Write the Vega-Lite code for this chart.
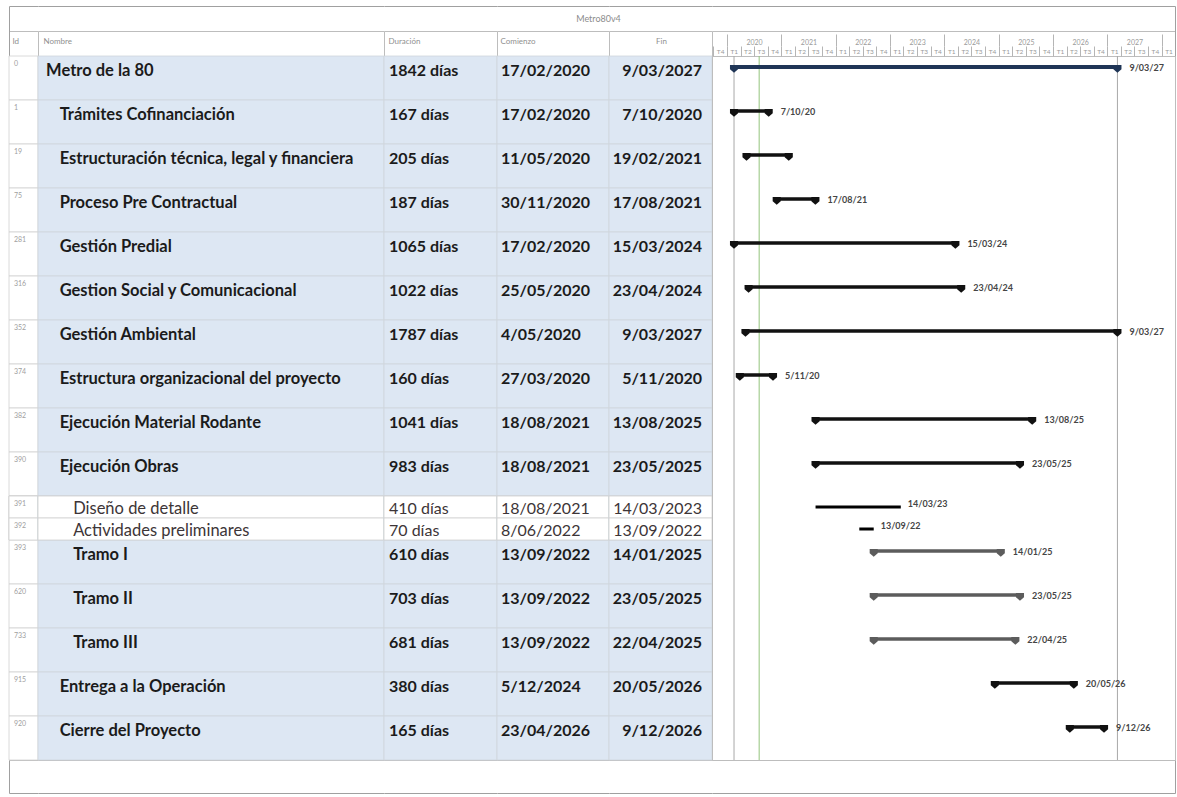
{
  "$schema": "https://vega.github.io/schema/vega-lite/v6.json",
  "padding": {"left": 8, "top": 5, "right": 3, "bottom": 5},
  "background": "white",
  "config": {"view": {"stroke": "#bdbdbd", "strokeWidth": 1}, "font": "Lato",
             "axis": {"titleFontSize": 8, "titleFontWeight": "normal", "titleColor": "#8f8f8f", "titleFont": "Lato", "titleAngle": 0, "titleBaseline": "middle"}},
  "data": {
    "values": [
      {"id": 0, "nombre": "Metro de la 80", "nivel": 0, "tipo": "proyecto", "duracion": "1842 días", "comienzo": "2020-02-17", "fin": "2027-03-09", "fila": 0, "sub": "a"},
      {"id": 1, "nombre": "Trámites Cofinanciación", "nivel": 1, "tipo": "resumen", "duracion": "167 días", "comienzo": "2020-02-17", "fin": "2020-10-07", "fila": 1, "sub": "a"},
      {"id": 19, "nombre": "Estructuración técnica, legal y financiera", "nivel": 1, "tipo": "resumen", "duracion": "205 días", "comienzo": "2020-05-11", "fin": "2021-02-19", "fila": 2, "sub": "a"},
      {"id": 75, "nombre": "Proceso Pre Contractual", "nivel": 1, "tipo": "resumen", "duracion": "187 días", "comienzo": "2020-11-30", "fin": "2021-08-17", "fila": 3, "sub": "a"},
      {"id": 281, "nombre": "Gestión Predial", "nivel": 1, "tipo": "resumen", "duracion": "1065 días", "comienzo": "2020-02-17", "fin": "2024-03-15", "fila": 4, "sub": "a"},
      {"id": 316, "nombre": "Gestion Social y Comunicacional", "nivel": 1, "tipo": "resumen", "duracion": "1022 días", "comienzo": "2020-05-25", "fin": "2024-04-23", "fila": 5, "sub": "a"},
      {"id": 352, "nombre": "Gestión Ambiental", "nivel": 1, "tipo": "resumen", "duracion": "1787 días", "comienzo": "2020-05-04", "fin": "2027-03-09", "fila": 6, "sub": "a"},
      {"id": 374, "nombre": "Estructura organizacional del proyecto", "nivel": 1, "tipo": "resumen", "duracion": "160 días", "comienzo": "2020-03-27", "fin": "2020-11-05", "fila": 7, "sub": "a"},
      {"id": 382, "nombre": "Ejecución Material Rodante", "nivel": 1, "tipo": "resumen", "duracion": "1041 días", "comienzo": "2021-08-18", "fin": "2025-08-13", "fila": 8, "sub": "a"},
      {"id": 390, "nombre": "Ejecución Obras", "nivel": 1, "tipo": "resumen", "duracion": "983 días", "comienzo": "2021-08-18", "fin": "2025-05-23", "fila": 9, "sub": "a"},
      {"id": 391, "nombre": "Diseño de detalle", "nivel": 2, "tipo": "tarea", "duracion": "410 días", "comienzo": "2021-08-18", "fin": "2023-03-14", "fila": 10, "sub": "a"},
      {"id": 392, "nombre": "Actividades preliminares", "nivel": 2, "tipo": "tarea", "duracion": "70 días", "comienzo": "2022-06-08", "fin": "2022-09-13", "fila": 10, "sub": "b"},
      {"id": 393, "nombre": "Tramo I", "nivel": 2, "tipo": "tramo", "duracion": "610 días", "comienzo": "2022-09-13", "fin": "2025-01-14", "fila": 11, "sub": "a"},
      {"id": 620, "nombre": "Tramo II", "nivel": 2, "tipo": "tramo", "duracion": "703 días", "comienzo": "2022-09-13", "fin": "2025-05-23", "fila": 12, "sub": "a"},
      {"id": 733, "nombre": "Tramo III", "nivel": 2, "tipo": "tramo", "duracion": "681 días", "comienzo": "2022-09-13", "fin": "2025-04-22", "fila": 13, "sub": "a"},
      {"id": 915, "nombre": "Entrega a la Operación", "nivel": 1, "tipo": "resumen", "duracion": "380 días", "comienzo": "2024-12-05", "fin": "2026-05-20", "fila": 14, "sub": "a"},
      {"id": 920, "nombre": "Cierre del Proyecto", "nivel": 1, "tipo": "resumen", "duracion": "165 días", "comienzo": "2026-04-23", "fin": "2026-12-09", "fila": 15, "sub": "a"}
    ],
    "format": {"parse": {"comienzo": "date:'%Y-%m-%d'", "fin": "date:'%Y-%m-%d'"}}
  },
  "spacing": 0,
  "bounds": "flush",
  "resolve": {"scale": {"x": "independent", "y": "shared", "yOffset": "shared"}},
  "hconcat": [
    {
      "width": 29, "height": 704,
      "resolve": {"axis": {"x": "independent"}},
      "layer": [
        {"mark": {"type": "rect", "fill": "white", "stroke": "#d0d0d0", "strokeWidth": 0.8},
         "encoding": {
           "x": {"datum": 0, "type": "quantitative", "scale": {"domain": [0, 1], "nice": false},
                 "axis": {"orient": "top", "offset": 25, "domain": true, "domainColor": "#bdbdbd", "ticks": false, "labels": false, "grid": false,
                          "title": "Id", "titleX": 3, "titleY": 10, "titleAlign": "left"}},
           "x2": {"datum": 1},
           "y": {"field": "fila", "type": "ordinal", "scale": {"domain": [0,1,2,3,4,5,6,7,8,9,10,11,12,13,14,15], "paddingInner": 0, "paddingOuter": 0}, "axis": null}}},
        {"transform": [{"filter": "datum.tipo == 'tarea'"}],
         "mark": {"type": "rect", "fill": "white", "stroke": "#d0d0d0", "strokeWidth": 0.8},
         "encoding": {
           "x": {"datum": 0, "type": "quantitative",
                 "axis": {"orient": "top", "offset": 50, "domain": true, "domainColor": "#a0a0a0", "values": [0], "ticks": true, "tickSize": -50, "tickColor": "#a0a0a0", "labels": false, "grid": false, "title": null}},
           "x2": {"datum": 1},
           "y": {"field": "fila", "type": "ordinal", "axis": null},
           "yOffset": {"field": "sub", "type": "nominal", "scale": {"domain": ["a", "b"], "paddingInner": 0, "paddingOuter": 0}}}},
        {"mark": {"type": "text", "align": "left", "baseline": "middle", "dx": 5, "dy": -3, "fontSize": 7, "color": "#a0a0a0"},
         "encoding": {"x": {"datum": 0, "type": "quantitative",
                            "axis": {"orient": "bottom", "offset": 33, "domain": true, "domainColor": "#a0a0a0", "values": [0], "ticks": true, "tickSize": -33, "tickColor": "#a0a0a0", "labels": false, "grid": false, "title": null}},
                      "y": {"field": "fila", "type": "ordinal", "axis": null},
                      "yOffset": {"field": "sub", "type": "nominal"},
                      "text": {"field": "id"}}}
      ]
    },
    {
      "width": 346, "height": 704,
      "resolve": {"axis": {"x": "independent"}},
      "layer": [
        {"mark": {"type": "rect", "stroke": "#cfd5dc", "strokeWidth": 0.8},
         "encoding": {
           "x": {"datum": -0.6, "type": "quantitative", "scale": {"domain": [-0.6, 25], "nice": false, "zero": false},
                 "axis": {"orient": "top", "offset": 25, "domain": true, "domainColor": "#bdbdbd", "values": [-0.6], "ticks": true, "tickSize": -25, "tickColor": "#bdbdbd", "labels": false, "grid": false,
                          "title": "Nombre", "titleX": 5, "titleY": 10, "titleAlign": "left"}},
           "x2": {"datum": 25},
           "y": {"field": "fila", "type": "ordinal", "axis": null},
           "fill": {"condition": {"test": "datum.tipo == 'tarea'", "value": "#ffffff"}, "value": "#dde7f3"}}},
        {"transform": [{"filter": "datum.tipo == 'tarea'"}],
         "mark": {"type": "rect", "fill": "white", "stroke": "#d0d0d0", "strokeWidth": 0.8},
         "encoding": {
           "x": {"datum": -0.6, "type": "quantitative",
                 "axis": {"orient": "top", "offset": 50, "domain": true, "domainColor": "#a0a0a0", "ticks": false, "labels": false, "grid": false, "title": null}},
           "x2": {"datum": 25},
           "y": {"field": "fila", "type": "ordinal", "axis": null}, "yOffset": {"field": "sub", "type": "nominal"}}},
        {"transform": [{"filter": "datum.tipo != 'tarea'"}],
         "mark": {"type": "text", "align": "left", "baseline": "middle", "dy": 4, "fontSize": 16.5, "fontWeight": "bold", "color": "#1b1b1b"},
         "encoding": {"x": {"field": "nivel", "type": "quantitative",
                            "axis": {"orient": "bottom", "offset": 33, "domain": true, "domainColor": "#a0a0a0", "ticks": false, "labels": false, "grid": false, "title": null}},
                      "y": {"field": "fila", "type": "ordinal", "axis": null},
                      "yOffset": {"field": "sub", "type": "nominal"},
                      "text": {"field": "nombre"}}},
        {"transform": [{"filter": "datum.tipo == 'tarea'"}],
         "mark": {"type": "text", "align": "left", "baseline": "middle", "dy": 2, "fontSize": 16.5, "fontWeight": "normal", "color": "#3d3537"},
         "encoding": {"x": {"field": "nivel", "type": "quantitative", "axis": null},
                      "y": {"field": "fila", "type": "ordinal", "axis": null},
                      "yOffset": {"field": "sub", "type": "nominal"},
                      "text": {"field": "nombre"}}}
      ]
    },
    {
      "width": 113, "height": 704,
      "resolve": {"axis": {"x": "independent"}},
      "layer": [
        {"mark": {"type": "rect", "stroke": "#cfd5dc", "strokeWidth": 0.8},
         "encoding": {
           "x": {"datum": 0, "type": "quantitative", "scale": {"domain": [0, 1], "nice": false},
                 "axis": {"orient": "top", "offset": 25, "domain": true, "domainColor": "#bdbdbd", "values": [0], "ticks": true, "tickSize": -25, "tickColor": "#bdbdbd", "labels": false, "grid": false,
                          "title": "Duración", "titleX": 4, "titleY": 10, "titleAlign": "left"}},
           "x2": {"datum": 1},
           "y": {"field": "fila", "type": "ordinal", "axis": null},
           "fill": {"condition": {"test": "datum.tipo == 'tarea'", "value": "#ffffff"}, "value": "#dde7f3"}}},
        {"transform": [{"filter": "datum.tipo == 'tarea'"}],
         "mark": {"type": "rect", "fill": "white", "stroke": "#d0d0d0", "strokeWidth": 0.8},
         "encoding": {
           "x": {"datum": 0, "type": "quantitative",
                 "axis": {"orient": "top", "offset": 50, "domain": true, "domainColor": "#a0a0a0", "ticks": false, "labels": false, "grid": false, "title": null}},
           "x2": {"datum": 1},
           "y": {"field": "fila", "type": "ordinal", "axis": null}, "yOffset": {"field": "sub", "type": "nominal"}}},
        {"transform": [{"filter": "datum.tipo != 'tarea'"}],
         "mark": {"type": "text", "align": "left", "baseline": "middle", "dx": 5, "dy": 4, "fontSize": 16, "fontWeight": "bold", "color": "#1b1b1b"},
         "encoding": {"x": {"datum": 0, "type": "quantitative",
                            "axis": {"orient": "bottom", "offset": 33, "domain": true, "domainColor": "#a0a0a0", "ticks": false, "labels": false, "grid": false, "title": null}},
                      "y": {"field": "fila", "type": "ordinal", "axis": null},
                      "yOffset": {"field": "sub", "type": "nominal"},
                      "text": {"field": "duracion"}}},
        {"transform": [{"filter": "datum.tipo == 'tarea'"}],
         "mark": {"type": "text", "align": "left", "baseline": "middle", "dx": 5, "dy": 2, "fontSize": 16, "fontWeight": "normal", "color": "#3d3537"},
         "encoding": {"x": {"datum": 0, "type": "quantitative", "axis": null},
                      "y": {"field": "fila", "type": "ordinal", "axis": null},
                      "yOffset": {"field": "sub", "type": "nominal"},
                      "text": {"field": "duracion"}}}
      ]
    },
    {
      "width": 112, "height": 704,
      "resolve": {"axis": {"x": "independent"}},
      "layer": [
        {"mark": {"type": "rect", "stroke": "#cfd5dc", "strokeWidth": 0.8},
         "encoding": {
           "x": {"datum": 0, "type": "quantitative", "scale": {"domain": [0, 1], "nice": false},
                 "axis": {"orient": "top", "offset": 25, "domain": true, "domainColor": "#bdbdbd", "values": [0], "ticks": true, "tickSize": -25, "tickColor": "#bdbdbd", "labels": false, "grid": false,
                          "title": "Comienzo", "titleX": 3, "titleY": 10, "titleAlign": "left"}},
           "x2": {"datum": 1},
           "y": {"field": "fila", "type": "ordinal", "axis": null},
           "fill": {"condition": {"test": "datum.tipo == 'tarea'", "value": "#ffffff"}, "value": "#dde7f3"}}},
        {"transform": [{"filter": "datum.tipo == 'tarea'"}],
         "mark": {"type": "rect", "fill": "white", "stroke": "#d0d0d0", "strokeWidth": 0.8},
         "encoding": {
           "x": {"datum": 0, "type": "quantitative",
                 "axis": {"orient": "top", "offset": 50, "domain": true, "domainColor": "#a0a0a0", "ticks": false, "labels": false, "grid": false,
                          "title": "Metro80v4", "titleX": 101, "titleY": 12, "titleAlign": "center", "titleFontSize": 9, "titleColor": "#8c8c8c"}},
           "x2": {"datum": 1},
           "y": {"field": "fila", "type": "ordinal", "axis": null}, "yOffset": {"field": "sub", "type": "nominal"}}},
        {"transform": [{"filter": "datum.tipo != 'tarea'"}],
         "mark": {"type": "text", "align": "left", "baseline": "middle", "dx": 4, "dy": 4, "fontSize": 16, "fontWeight": "bold", "color": "#1b1b1b"},
         "encoding": {"x": {"datum": 0, "type": "quantitative",
                            "axis": {"orient": "bottom", "offset": 33, "domain": true, "domainColor": "#a0a0a0", "ticks": false, "labels": false, "grid": false, "title": null}},
                      "y": {"field": "fila", "type": "ordinal", "axis": null},
                      "yOffset": {"field": "sub", "type": "nominal"},
                      "text": {"field": "comienzo", "type": "temporal", "format": "%-d/%m/%Y"}}},
        {"transform": [{"filter": "datum.tipo == 'tarea'"}],
         "mark": {"type": "text", "align": "left", "baseline": "middle", "dx": 4, "dy": 2, "fontSize": 16, "fontWeight": "normal", "color": "#3d3537"},
         "encoding": {"x": {"datum": 0, "type": "quantitative", "axis": null},
                      "y": {"field": "fila", "type": "ordinal", "axis": null},
                      "yOffset": {"field": "sub", "type": "nominal"},
                      "text": {"field": "comienzo", "type": "temporal", "format": "%-d/%m/%Y"}}}
      ]
    },
    {
      "width": 103, "height": 704,
      "resolve": {"axis": {"x": "independent"}},
      "layer": [
        {"mark": {"type": "rect", "stroke": "#cfd5dc", "strokeWidth": 0.8},
         "encoding": {
           "x": {"datum": 0, "type": "quantitative", "scale": {"domain": [0, 1], "nice": false},
                 "axis": {"orient": "top", "offset": 25, "domain": true, "domainColor": "#bdbdbd", "values": [0], "ticks": true, "tickSize": -25, "tickColor": "#bdbdbd", "labels": false, "grid": false,
                          "title": "Fin", "titleX": 52, "titleY": 10, "titleAlign": "center"}},
           "x2": {"datum": 1},
           "y": {"field": "fila", "type": "ordinal", "axis": null},
           "fill": {"condition": {"test": "datum.tipo == 'tarea'", "value": "#ffffff"}, "value": "#dde7f3"}}},
        {"transform": [{"filter": "datum.tipo == 'tarea'"}],
         "mark": {"type": "rect", "fill": "white", "stroke": "#d0d0d0", "strokeWidth": 0.8},
         "encoding": {
           "x": {"datum": 0, "type": "quantitative",
                 "axis": {"orient": "top", "offset": 50, "domain": true, "domainColor": "#a0a0a0", "ticks": false, "labels": false, "grid": false, "title": null}},
           "x2": {"datum": 1},
           "y": {"field": "fila", "type": "ordinal", "axis": null}, "yOffset": {"field": "sub", "type": "nominal"}}},
        {"transform": [{"filter": "datum.tipo != 'tarea'"}],
         "mark": {"type": "text", "align": "right", "baseline": "middle", "dx": -10, "dy": 4, "fontSize": 16, "fontWeight": "bold", "color": "#1b1b1b"},
         "encoding": {"x": {"datum": 1, "type": "quantitative",
                            "axis": {"orient": "bottom", "offset": 33, "domain": true, "domainColor": "#a0a0a0", "ticks": false, "labels": false, "grid": false, "title": null}},
                      "y": {"field": "fila", "type": "ordinal", "axis": null},
                      "yOffset": {"field": "sub", "type": "nominal"},
                      "text": {"field": "fin", "type": "temporal", "format": "%-d/%m/%Y"}}},
        {"transform": [{"filter": "datum.tipo == 'tarea'"}],
         "mark": {"type": "text", "align": "right", "baseline": "middle", "dx": -10, "dy": 2, "fontSize": 16, "fontWeight": "normal", "color": "#3d3537"},
         "encoding": {"x": {"datum": 1, "type": "quantitative", "axis": null},
                      "y": {"field": "fila", "type": "ordinal", "axis": null},
                      "yOffset": {"field": "sub", "type": "nominal"},
                      "text": {"field": "fin", "type": "temporal", "format": "%-d/%m/%Y"}}}
      ]
    },
    {
      "width": 463, "height": 704,
      "resolve": {"axis": {"x": "independent"}},
      "layer": [
        {"data": {"values": [
            {"fecha": "2020-02-17", "tipo": "inicio"},
            {"fecha": "2027-03-09", "tipo": "fin"},
            {"fecha": "2020-08-04", "tipo": "estado"}
          ], "format": {"parse": {"fecha": "date:'%Y-%m-%d'"}}},
         "mark": {"type": "rule", "strokeWidth": 1},
         "encoding": {
           "x": {"field": "fecha", "type": "temporal",
                 "scale": {"domain": [{"year": 2019, "month": 9, "date": 22}, {"year": 2028, "month": 3, "date": 30}]},
                 "axis": {"orient": "top", "offset": 10, "tickCount": {"interval": "year", "step": 1}, "format": "%Y",
                          "labelExpr": "year(datum.value) < 2028 ? datum.label : ''",
                          "labelOffset": 27, "tickSize": 12, "labelPadding": -11, "domain": false, "grid": false,
                          "labelFontSize": 7, "labelColor": "#9a9a9a", "tickColor": "#b5b5b5", "labelAlign": "center",
                          "labelFlush": false, "labelOverlap": false, "labelBound": false, "title": null}},
           "color": {"condition": {"test": "datum.tipo == 'estado'", "value": "#93c47d"}, "value": "#a8a8a8"}
         }},
        {"mark": {"type": "rule"},
         "encoding": {
           "x": {"field": "comienzo", "type": "temporal",
                 "axis": {"orient": "top", "offset": 0, "tickCount": {"interval": "month", "step": 3},
                          "labelExpr": "'T' + (floor(month(datum.value) / 3) + 1)",
                          "labelOffset": 6.8, "tickSize": 10, "labelPadding": -8, "domain": false, "grid": false,
                          "labelFontSize": 6.5, "labelColor": "#9a9a9a", "tickColor": "#b5b5b5", "labelAlign": "center",
                          "labelFlush": false, "labelOverlap": false, "labelBound": false, "title": null}},
           "x2": {"field": "fin"},
           "y": {"field": "fila", "type": "ordinal", "axis": null},
           "yOffset": {"field": "sub", "type": "nominal"},
           "color": {"field": "tipo", "type": "nominal", "scale": {"domain": ["proyecto", "resumen", "tramo", "tarea"], "range": ["#1f3556", "#111111", "#5c5c5c", "#000000"]}, "legend": null},
           "strokeWidth": {"field": "tipo", "type": "nominal", "scale": {"domain": ["proyecto", "resumen", "tramo", "tarea"], "range": [4, 3, 4, 6]}, "legend": null}
         }},
        {"transform": [{"filter": "datum.tipo != 'tarea'"}],
         "mark": {"type": "point", "filled": true, "opacity": 1, "size": 81, "shape": "M-0.9,-0.45L0.9,-0.45L0.9,0.5L0,1.3L-0.9,0.5Z"},
         "encoding": {
           "x": {"field": "comienzo", "type": "temporal",
                 "axis": {"orient": "top", "offset": 25, "domain": true, "domainColor": "#bdbdbd", "values": [{"year": 2019, "month": 9, "date": 22}], "ticks": true, "tickSize": -25, "tickColor": "#bdbdbd", "labels": false, "grid": false, "title": null}},
           "y": {"field": "fila", "type": "ordinal", "axis": null},
           "yOffset": {"field": "sub", "type": "nominal"},
           "color": {"field": "tipo", "type": "nominal", "legend": null}
         }},
        {"transform": [{"filter": "datum.tipo != 'tarea'"}],
         "mark": {"type": "point", "filled": true, "opacity": 1, "size": 81, "shape": "M-0.9,-0.45L0.9,-0.45L0.9,0.5L0,1.3L-0.9,0.5Z"},
         "encoding": {
           "x": {"field": "fin", "type": "temporal",
                 "axis": {"orient": "top", "offset": 50, "domain": true, "domainColor": "#a0a0a0", "values": [{"year": 2028, "month": 3, "date": 30}], "ticks": true, "tickSize": -50, "tickColor": "#a0a0a0", "labels": false, "grid": false, "title": null}},
           "y": {"field": "fila", "type": "ordinal", "axis": null},
           "yOffset": {"field": "sub", "type": "nominal"},
           "color": {"field": "tipo", "type": "nominal", "legend": null}
         }},
        {"transform": [{"filter": "datum.tipo != 'tarea' && datum.id != 19"}],
         "mark": {"type": "text", "align": "left", "baseline": "middle", "dx": 12, "dy": 1, "fontSize": 9, "fontWeight": "bold", "color": "#454545"},
         "encoding": {
           "x": {"field": "fin", "type": "temporal",
                 "axis": {"orient": "bottom", "offset": 33, "domain": true, "domainColor": "#a0a0a0", "values": [{"year": 2028, "month": 3, "date": 30}], "ticks": true, "tickSize": -33, "tickColor": "#a0a0a0", "labels": false, "grid": false, "title": null}},
           "y": {"field": "fila", "type": "ordinal", "axis": null},
           "yOffset": {"field": "sub", "type": "nominal"},
           "text": {"field": "fin", "type": "temporal", "format": "%-d/%m/%y"}
         }},
        {"transform": [{"filter": "datum.tipo == 'tarea'"}],
         "mark": {"type": "text", "align": "left", "baseline": "middle", "dx": 7, "dy": -3, "fontSize": 9, "fontWeight": "bold", "color": "#454545"},
         "encoding": {
           "x": {"field": "fin", "type": "temporal", "axis": null},
           "y": {"field": "fila", "type": "ordinal", "axis": null},
           "yOffset": {"field": "sub", "type": "nominal"},
           "text": {"field": "fin", "type": "temporal", "format": "%-d/%m/%y"}
         }}
      ]
    }
  ]
}
